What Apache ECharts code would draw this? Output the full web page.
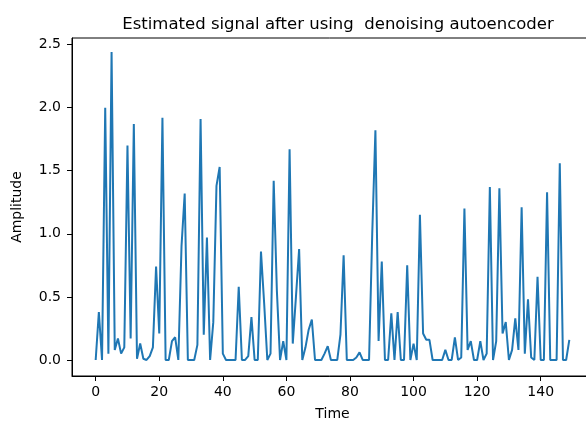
<!DOCTYPE html>
<html>
<head>
<meta charset="utf-8">
<script src="https://cdn.jsdelivr.net/npm/echarts@6/dist/echarts.min.js"></script>
<style>
    html, body { margin: 0; padding: 0; background: #fff; }
    #chart { width: 586px; height: 426px; }
</style>
</head>
<body>
<div id="chart"></div>
<script>
// amplitude per time step (index = time)
const amplitude = [
    0.0, 0.38, 0.0, 2.0, 0.05, 2.44, 0.08, 0.17, 0.05, 0.1,
    1.7, 0.17, 1.87, 0.01, 0.13, 0.01, 0.0, 0.03, 0.1, 0.74,
    0.21, 1.92, 0.0, 0.0, 0.15, 0.18, 0.0, 0.9, 1.32, 0.0,
    0.0, 0.0, 0.12, 1.91, 0.2, 0.97, 0.0, 0.3, 1.38, 1.53,
    0.05, 0.0, 0.0, 0.0, 0.0, 0.58, 0.0, 0.0, 0.03, 0.34,
    0.0, 0.0, 0.86, 0.45, 0.0, 0.05, 1.42, 0.55, 0.0, 0.15,
    0.0, 1.67, 0.13, 0.5, 0.88, 0.0, 0.1, 0.24, 0.32, 0.0,
    0.0, 0.0, 0.05, 0.11, 0.0, 0.0, 0.0, 0.2, 0.83, 0.0,
    0.0, 0.0, 0.02, 0.06, 0.0, 0.0, 0.0, 1.0, 1.82, 0.15,
    0.78, 0.0, 0.0, 0.37, 0.0, 0.38, 0.0, 0.0, 0.75, 0.0,
    0.13, 0.0, 1.15, 0.21, 0.16, 0.16, 0.0, 0.0, 0.0, 0.0,
    0.08, 0.0, 0.0, 0.18, 0.0, 0.02, 1.2, 0.08, 0.15, 0.0,
    0.0, 0.15, 0.0, 0.05, 1.37, 0.0, 0.15, 1.36, 0.21, 0.3,
    0.0, 0.08, 0.33, 0.08, 1.21, 0.05, 0.48, 0.02, 0.0, 0.66,
    0.0, 0.0, 1.33, 0.0, 0.0, 0.0, 1.56, 0.0, 0.0, 0.16
]
const xTicks = [0, 20, 40, 60, 80, 100, 120, 140]
const yTicks = [0, 0.5, 1.0, 1.5, 2.0, 2.5]

const chart = echarts.init(document.getElementById('chart'), null, { renderer: 'canvas' })

const font = 'DejaVu Sans'
const ink = '#000'

const option = {
    animation: false,
    backgroundColor: '#fff',
    textStyle: { fontFamily: font },
    title: {
        text: 'Estimated signal after using  denoising autoencoder',
        left: 333,
        top: 11,
        textAlign: 'center',
        textStyle: { fontFamily: font, fontSize: 16.5, fontWeight: 'normal', color: ink }
    },
    grid: {
        left: 72,
        top: 38,
        width: 521,
        height: 338,
        show: true,
        borderColor: ink,
        borderWidth: 1,
        containLabel: false,
        outerBoundsMode: 'none'
    },
    xAxis: {
        type: 'value',
        min: -7.45,
        max: 156.45,
        name: 'Time',
        nameLocation: 'middle',
        nameGap: 31,
        nameTextStyle: { fontFamily: font, fontSize: 14, color: ink },
        axisLine: { show: true, onZero: false, lineStyle: { color: ink, width: 1 } },
        axisTick: { show: true, length: 5, customValues: xTicks, lineStyle: { color: ink, width: 1 } },
        axisLabel: {
            customValues: xTicks,
            margin: 9,
            fontFamily: font,
            fontSize: 14,
            color: ink
        },
        splitLine: { show: false }
    },
    yAxis: {
        type: 'value',
        min: -0.127,
        max: 2.552,
        name: 'Amplitude',
        nameLocation: 'middle',
        nameRotate: 90,
        nameGap: 48,
        nameTextStyle: { fontFamily: font, fontSize: 14, color: ink },
        axisLine: { show: true, onZero: false, lineStyle: { color: ink, width: 1 } },
        axisTick: { show: true, length: 5, customValues: yTicks, lineStyle: { color: ink, width: 1 } },
        axisLabel: {
            customValues: yTicks,
            margin: 11,
            fontFamily: font,
            fontSize: 14,
            color: ink,
            formatter: v => v.toFixed(1)
        },
        splitLine: { show: false }
    },
    series: [{
        type: 'line',
        data: amplitude.map((v, i) => [i, v]),
        showSymbol: false,
        symbol: 'none',
        lineStyle: { color: '#1f77b4', width: 2 },
        itemStyle: { color: '#1f77b4' }
    }]
}

chart.setOption(option)
</script>
</body>
</html>
